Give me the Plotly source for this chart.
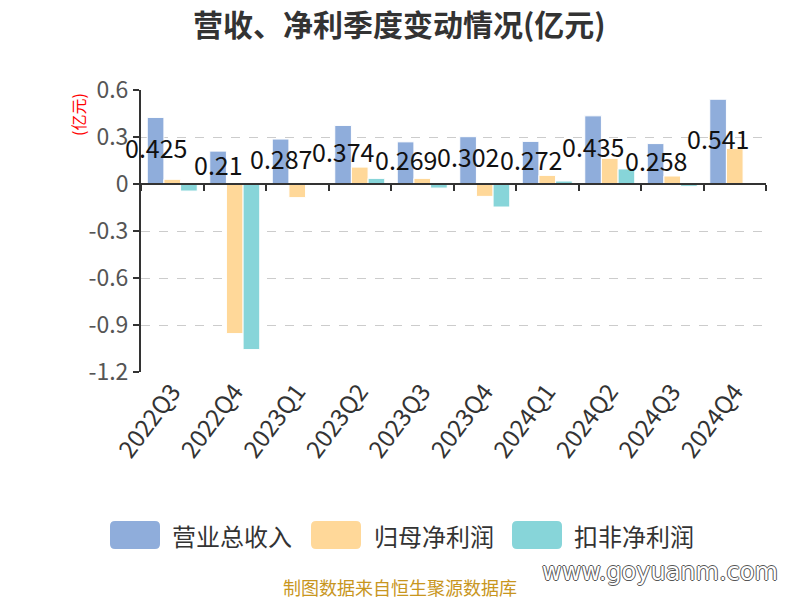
import plotly.graph_objects as go

categories = ["2022Q3", "2022Q4", "2023Q1", "2023Q2", "2023Q3", "2023Q4",
              "2024Q1", "2024Q2", "2024Q3", "2024Q4"]
revenue = [0.425, 0.21, 0.287, 0.374, 0.269, 0.302, 0.272, 0.435, 0.258, 0.541]
net_profit = [0.030, -0.955, -0.087, 0.108, 0.036, -0.079, 0.055, 0.164, 0.051, 0.226]
deducted_profit = [-0.045, -1.057, -0.002, 0.036, -0.026, -0.147, 0.019, 0.096, -0.015, 0.003]
series_names = ["营业总收入", "归母净利润", "扣非净利润"]
y_tickvals = [0.6, 0.3, 0, -0.3, -0.6, -0.9, -1.2]
y_ticktext = ["0.6", "0.3", "0", "-0.3", "-0.6", "-0.9", "-1.2"]

colors = ["#8FADDB", "#FFD899", "#87D5D9"]
FONT = "Noto Sans CJK SC, Noto Sans, sans-serif"

ML, MR, MT, MB = 141, 34, 90, 228
pw, ph = 800 - ML - MR, 600 - MT - MB


def px(x):
    return (x - ML) / pw


def py(y):
    return (600 - MB - y) / ph


fig = go.Figure()
for name, vals, c in zip(series_names, [revenue, net_profit, deducted_profit], colors):
    fig.add_trace(go.Bar(x=categories, y=vals, name=name, marker_color=c,
                         marker_line=dict(color="white", width=1), showlegend=False))

# invisible trace to anchor the tick axis at y=0
fig.add_trace(go.Scatter(x=[-0.5, 9.5], y=[0, 0], xaxis="x2", mode="lines",
                         line=dict(width=0), hoverinfo="skip", showlegend=False))

annotations = []
for cat, v in zip(categories, revenue):
    annotations.append(dict(x=cat, y=v / 2, text=str(v), showarrow=False,
                            xshift=-16.7, yshift=4,
                            font=dict(size=25, color="#111", family=FONT)))

# title
annotations.append(dict(x=px(399), y=py(23), xref="paper", yref="paper", xanchor="center",
                        yanchor="middle", text="<b>营收、净利季度变动情况(亿元)</b>",
                        showarrow=False,
                        font=dict(size=30, color="#333", family=FONT)))
# y unit label
annotations.append(dict(x=px(78), y=py(115), xref="paper", yref="paper", text="(亿元)",
                        xanchor="center", yanchor="middle",
                        showarrow=False, textangle=-90,
                        font=dict(size=16, color="red", family=FONT)))

# custom legend
legend_items = [(110, 160, 170), (311, 361, 372), (512, 562, 572)]
shapes = []
for (x0, x1, tx), name, c in zip(legend_items, series_names, colors):
    shapes.append(dict(type="path", xref="paper", yref="paper",
                       path=(f"M {px(x0+5)} {py(521)} L {px(x1-5)} {py(521)} "
                             f"Q {px(x1)} {py(521)} {px(x1)} {py(526)} "
                             f"L {px(x1)} {py(544)} Q {px(x1)} {py(549)} {px(x1-5)} {py(549)} "
                             f"L {px(x0+5)} {py(549)} Q {px(x0)} {py(549)} {px(x0)} {py(544)} "
                             f"L {px(x0)} {py(526)} Q {px(x0)} {py(521)} {px(x0+5)} {py(521)} Z"),
                       fillcolor=c, line=dict(width=0)))
    annotations.append(dict(x=px(tx), y=py(535), xref="paper", yref="paper",
                            xanchor="left", yanchor="middle", text=name,
                            showarrow=False, font=dict(size=24, color="#333", family=FONT)))

# footer
annotations.append(dict(x=px(400), y=py(587), xref="paper", yref="paper",
                        xanchor="center", yanchor="middle", text="制图数据来自恒生聚源数据库",
                        showarrow=False, font=dict(size=18, color="#C8961E", family=FONT)))
annotations.append(dict(x=px(660), y=py(572), xref="paper", yref="paper",
                        xanchor="center", yanchor="middle", text="www.goyuanm.com",
                        showarrow=False,
                        font=dict(size=24, color="white", family="DejaVu Sans",
                                  shadow="1px 0 0 #555, -1px 0 0 #555, 0 1px 0 #555, 0 -1px 0 #555")))

fig.update_layout(
    width=800, height=600,
    margin=dict(l=ML, r=MR, t=MT, b=MB, autoexpand=False),
    plot_bgcolor="white", paper_bgcolor="white",
    barmode="group", bargap=0.2, bargroupgap=0.0,
    font=dict(family=FONT),
    xaxis=dict(type="category", range=[-0.5, 9.5], showgrid=False, showline=False, ticks="",
               tickangle=-53, tickfont=dict(size=24, color="#333", family=FONT),
               zeroline=False, automargin=False),
    xaxis2=dict(overlaying="x", anchor="free", position=2 / 3, range=[-0.5, 9.5],
                tickvals=[-0.5 + i for i in range(11)], showticklabels=False,
                ticks="outside", ticklen=6, tickcolor="#333", tickwidth=2,
                showline=True, linecolor="#333", linewidth=2, showgrid=False,
                zeroline=False),
    yaxis=dict(range=[-1.2, 0.6], tickvals=y_tickvals, ticktext=y_ticktext,
               showgrid=True, gridcolor="#cccccc", griddash="dash", gridwidth=1,
               zeroline=False, showline=True, linecolor="#333", linewidth=2,
               ticks="outside", ticklen=6, tickcolor="#333", tickwidth=2,
               tickfont=dict(size=23, color="#555", family=FONT), automargin=False),
    annotations=annotations, shapes=shapes,
)

fig.write_html("out.html", config={"displayModeBar": False})
with open("out.html", "r", encoding="utf-8") as f:
    html = f.read()
html = html.replace("<head>", "<head><style>html,body{margin:0;padding:0;overflow:hidden}</style>", 1)
with open("out.html", "w", encoding="utf-8") as f:
    f.write(html)
